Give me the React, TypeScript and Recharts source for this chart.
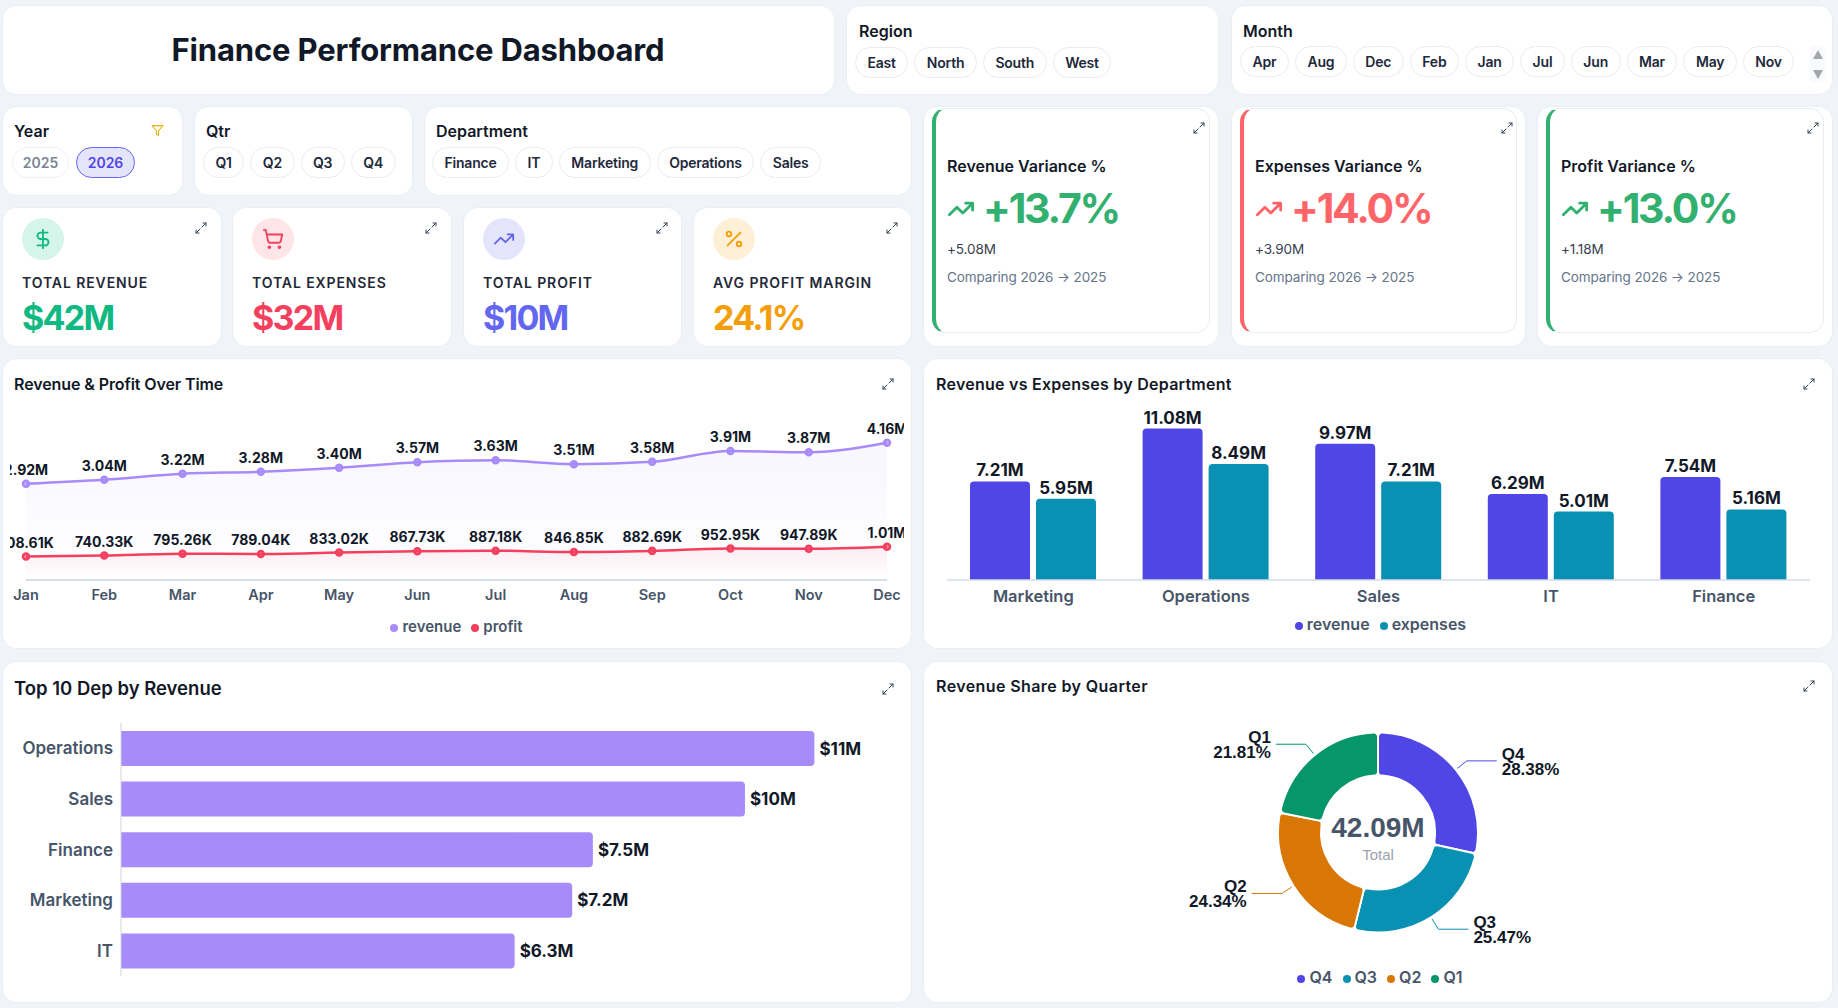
import React from "react"
import {
  AreaChart,
  Area,
  BarChart,
  Bar,
  PieChart,
  Pie,
  Cell,
  XAxis,
  YAxis,
  Legend,
  LabelList,
} from "recharts"

const months = ["Jan", "Feb", "Mar", "Apr", "May", "Jun", "Jul", "Aug", "Sep", "Oct", "Nov", "Dec"]
const revenueByMonth = [2920000, 3040000, 3220000, 3280000, 3400000, 3570000, 3630000, 3510000, 3580000, 3910000, 3870000, 4160000]
const profitByMonth = [708610, 740330, 795260, 789040, 833020, 867730, 887180, 846850, 882690, 952950, 947890, 1010000]

const departments = ["Marketing", "Operations", "Sales", "IT", "Finance"]
const deptRevenue = [7210000, 11080000, 9970000, 6290000, 7540000]
const deptExpenses = [5950000, 8490000, 7210000, 5010000, 5160000]

const topDepts = ["Operations", "Sales", "Finance", "Marketing", "IT"]
const topDeptRevenue = [11080000, 9970000, 7540000, 7210000, 6290000]

const quarters = ["Q4", "Q3", "Q2", "Q1"]
const quarterRevenue = [11945000, 10720000, 10245000, 9180000]
const quarterColors = ["#4f46e5", "#0891b2", "#d97706", "#059669"]

const regionChips = ["East", "North", "South", "West"]
const monthChips = ["Apr", "Aug", "Dec", "Feb", "Jan", "Jul", "Jun", "Mar", "May", "Nov"]
const qtrChips = ["Q1", "Q2", "Q3", "Q4"]
const deptChips = ["Finance", "IT", "Marketing", "Operations", "Sales"]

const lineData = months.map((month, i) => ({ month, revenue: revenueByMonth[i], profit: profitByMonth[i] }))
const deptData = departments.map((name, i) => ({ name, revenue: deptRevenue[i], expenses: deptExpenses[i] }))
const topData = topDepts.map((name, i) => ({ name, revenue: topDeptRevenue[i] }))
const quarterData = quarters.map((name, i) => ({ name, value: quarterRevenue[i] }))

const FONT = "Inter, sans-serif"
const DARK = "#111827"
const AXIS = "#475569"

const fmtShort = (v: number) => (v >= 1000000 ? (v / 1000000).toFixed(2) + "M" : (v / 1000).toFixed(2) + "K")
const fmtDollar = (v: number) => {
  const m = v / 1000000
  return "$" + (m >= 9.5 ? Math.round(m) : m.toFixed(1)) + "M"
}

function Card({ x, y, w, h, children }: any) {
  return (
    <div
      style={{
        position: "absolute",
        left: x,
        top: y,
        width: w,
        height: h,
        boxSizing: "border-box",
        background: "#fff",
        borderRadius: 14,
        boxShadow: "0 0 0 1px #eaeff5",
      }}
    >
      {children}
    </div>
  )
}

// y is the vertical centre of the text
function Txt({ x, y, size = 14, weight = 500, color = DARK, spacing = 0, children, center }: any) {
  return (
    <div
      style={{
        position: "absolute",
        left: x,
        top: y,
        transform: center ? "translate(-50%,-50%)" : "translateY(-50%)",
        fontFamily: FONT,
        fontSize: size,
        fontWeight: weight,
        color,
        letterSpacing: spacing,
        whiteSpace: "nowrap",
      }}
    >
      {children}
    </div>
  )
}

function Chips({ x, y, items, gap = 6, height = 31, pad = 11.5 }: any) {
  return (
    <div style={{ position: "absolute", left: x, top: y, display: "flex", gap }}>
      {items.map((c: string) => (
        <div
          key={c}
          style={{
            height,
            boxSizing: "border-box",
            padding: `0 ${pad}px`,
            display: "flex",
            alignItems: "center",
            borderRadius: 16,
            border: "1px solid #e8ecf2",
            background: "#fff",
            fontFamily: FONT,
            fontSize: 14,
            fontWeight: 600,
            letterSpacing: -0.2,
            color: "#1e293b",
          }}
        >
          {c}
        </div>
      ))}
    </div>
  )
}

function Icon({ x, y, size = 12, color = "#334155", width = 2, children }: any) {
  return (
    <svg
      style={{ position: "absolute", left: x, top: y }}
      width={size}
      height={size}
      viewBox="0 0 24 24"
      fill="none"
      stroke={color}
      strokeWidth={width}
      strokeLinecap="round"
      strokeLinejoin="round"
    >
      {children}
    </svg>
  )
}

const Expand = ({ x, y }: any) => (
  <Icon x={x} y={y}>
    <path d="M16 2h6v6M22 2l-8 8M2 22l8-8M2 16v6h6" />
  </Icon>
)
const Trend = <path d="M22 7 13.5 15.5 8.5 10.5 2 17M16 7h6v6" />

const kpis = [
  { x: 3, w: 218, title: "TOTAL REVENUE", value: "$42M", color: "#10b981", bg: "#d6f5ea" },
  { x: 233, w: 218, title: "TOTAL EXPENSES", value: "$32M", color: "#f43f5e", bg: "#ffe4e8" },
  { x: 464, w: 217, title: "TOTAL PROFIT", value: "$10M", color: "#6366f1", bg: "#e4e5fc" },
  { x: 694, w: 217, title: "AVG PROFIT MARGIN", value: "24.1%", color: "#f59e0b", bg: "#fef0d6" },
]
const kpiIcons = [
  <path d="M12 2v20M17 5H9.5a3.5 3.5 0 0 0 0 7h5a3.5 3.5 0 0 1 0 7H6" />,
  <>
    <circle cx="8" cy="21" r="1" />
    <circle cx="19" cy="21" r="1" />
    <path d="M2.05 2.05h2l2.66 12.42a2 2 0 0 0 2 1.58h9.78a2 2 0 0 0 1.95-1.57l1.65-7.43H5.12" />
  </>,
  Trend,
  <>
    <path d="M19 5 5 19" />
    <circle cx="6.5" cy="6.5" r="2.5" />
    <circle cx="17.5" cy="17.5" r="2.5" />
  </>,
]
const variances = [
  { x: 924, w: 294, title: "Revenue Variance %", value: "+13.7%", delta: "+5.08M", color: "#32b06f" },
  { x: 1232, w: 293, title: "Expenses Variance %", value: "+14.0%", delta: "+3.90M", color: "#ff6468" },
  { x: 1538, w: 294, title: "Profit Variance %", value: "+13.0%", delta: "+1.18M", color: "#32b06f" },
]

const dotLegend = (size = 14) => ({
  fontFamily: FONT,
  fontSize: size,
  fontWeight: 600,
  color: AXIS,
})

function PieLabel(props: any) {
  const { cx, cy, midAngle, outerRadius, percent, name, index } = props
  const rad = Math.PI / 180
  const cos = Math.cos(-midAngle * rad)
  const sin = Math.sin(-midAngle * rad)
  const sx = cx + (outerRadius + 2) * cos
  const sy = cy + (outerRadius + 2) * sin
  const mx = cx + (outerRadius + 14) * cos
  const my = cy + (outerRadius + 14) * sin
  const right = cos >= 0
  const ex = mx + (right ? 30 : -30)
  const tx = ex + (right ? 5 : -5)
  const style = { fontFamily: "'Liberation Sans', sans-serif", fontSize: 17, fontWeight: 700, fill: DARK }
  return (
    <g>
      <path d={`M${sx},${sy}L${mx},${my}L${ex},${my}`} fill="none" stroke={quarterColors[index]} strokeWidth={1} />
      <text x={tx} y={my - 1} textAnchor={right ? "start" : "end"} style={style}>
        {name}
      </text>
      <text x={tx} y={my + 14} textAnchor={right ? "start" : "end"} style={style}>
        {(percent * 100).toFixed(2)}%
      </text>
    </g>
  )
}

export default function App() {
  return (
    <div style={{ position: "absolute", left: 0, top: 0, width: 1838, height: 1008, background: "#f0f4f8", overflow: "hidden" }}>
      {/* top filters */}
      <Card x={3} y={6} w={831} h={88} />
      <Txt x={418} y={49} size={31} weight={700} color="#111827" spacing={-0.15} center>
        Finance Performance Dashboard
      </Txt>

      <Card x={847} y={6} w={371} h={88} />
      <Txt x={859} y={31} size={16} weight={600}>Region</Txt>
      <Chips x={855} y={47} items={regionChips} />

      <Card x={1232} y={6} w={600} h={88} />
      <Txt x={1243} y={31} size={16} weight={600}>Month</Txt>
      <Chips x={1240} y={46} items={monthChips} />
      <div style={{ position: "absolute", left: 1810, top: 46, width: 16, height: 36, background: "#f8fafc", borderRadius: 4 }} />
      <svg style={{ position: "absolute", left: 1811, top: 48 }} width={14} height={34}>
        <path d="M7 2l5 9H2z" fill="#a3a8ae" />
        <path d="M7 31l5-9H2z" fill="#a3a8ae" />
      </svg>

      <Card x={3} y={107} w={179} h={88} />
      <Txt x={14} y={131} size={16} weight={600}>Year</Txt>
      <Icon x={151} y={124} size={13} color="#eab308">
        <polygon points="22 3 2 3 10 12.46 10 19 14 21 14 12.46 22 3" />
      </Icon>
      <div style={{ position: "absolute", left: 12, top: 147, width: 57, height: 31, boxSizing: "border-box", borderRadius: 16, border: "1px solid #eef1f5", display: "flex", alignItems: "center", justifyContent: "center", fontFamily: FONT, fontSize: 14, fontWeight: 600, color: "#7b8494" }}>2025</div>
      <div style={{ position: "absolute", left: 76, top: 147, width: 59, height: 31, boxSizing: "border-box", borderRadius: 16, border: "1px solid #6366f1", background: "#e4e4fb", display: "flex", alignItems: "center", justifyContent: "center", fontFamily: FONT, fontSize: 14, fontWeight: 600, color: "#4f46e5" }}>2026</div>

      <Card x={195} y={107} w={217} h={88} />
      <Txt x={206} y={131} size={16} weight={600}>Qtr</Txt>
      <Chips x={203} y={147} items={qtrChips} />

      <Card x={425} y={107} w={486} h={88} />
      <Txt x={436} y={131} size={16} weight={600}>Department</Txt>
      <Chips x={432} y={147} items={deptChips} />

      {/* KPI cards */}
      {kpis.map((k, i) => (
        <React.Fragment key={k.title}>
          <Card x={k.x} y={208} w={k.w} h={138} />
          <div style={{ position: "absolute", left: k.x + 19, top: 218, width: 42, height: 42, borderRadius: 21, background: k.bg }} />
          <Icon x={k.x + 29} y={228} size={22} color={k.color}>{kpiIcons[i]}</Icon>
          <Txt x={k.x + 19} y={282} size={14} weight={600} spacing={0.9} color="#1f2937">{k.title}</Txt>
          <Txt x={k.x + 19} y={317} size={34} weight={700} spacing={-1.75} color={k.color}>{k.value}</Txt>
          <Expand x={k.x + 192} y={222} />
        </React.Fragment>
      ))}

      {/* variance cards */}
      {variances.map((v) => (
        <React.Fragment key={v.title}>
          <Card x={v.x} y={107} w={v.w} h={239} />
          <div
            style={{
              position: "absolute",
              left: v.x + 8,
              top: 108,
              width: v.w - 16,
              height: 225,
              boxSizing: "border-box",
              borderRadius: 14,
              border: "1px solid #e9eef4",
              borderLeft: `4px solid ${v.color}`,
            }}
          />
          <Txt x={v.x + 23} y={166} size={16} weight={600}>{v.title}</Txt>
          <Icon x={v.x + 23} y={195} size={28} color={v.color} width={2.4}>{Trend}</Icon>
          <Txt x={v.x + 59} y={208} size={41} weight={700} spacing={-2.2} color={v.color}>{v.value}</Txt>
          <Txt x={v.x + 23} y={249} size={13.5} weight={400} spacing={-0.1} color="#374151">{v.delta}</Txt>
          <Txt x={v.x + 23} y={277} size={13.5} weight={400} spacing={-0.1} color="#64748b">Comparing 2026 → 2025</Txt>
          <Expand x={v.x + 269} y={122} />
        </React.Fragment>
      ))}

      {/* revenue & profit over time */}
      <Card x={3} y={359} w={908} h={289} />
      <Txt x={14} y={384} size={16} weight={600} spacing={-0.1}>Revenue &amp; Profit Over Time</Txt>
      <Expand x={882} y={378} />
      <div style={{ position: "absolute", left: 10, top: 400, width: 894, height: 245, overflow: "hidden" }}>
        <AreaChart width={894} height={245} data={lineData} margin={{ top: 15, right: 17, bottom: 4.5, left: 16 }}>
          <defs>
            <linearGradient id="revFill" x1="0" y1="0" x2="0" y2="1">
              <stop offset="0%" stopColor="#a78bfa" stopOpacity={0.13} />
              <stop offset="100%" stopColor="#a78bfa" stopOpacity={0} />
            </linearGradient>
            <linearGradient id="profFill" x1="0" y1="0" x2="0" y2="1">
              <stop offset="0%" stopColor="#f43f5e" stopOpacity={0.14} />
              <stop offset="100%" stopColor="#f43f5e" stopOpacity={0} />
            </linearGradient>
          </defs>
          <XAxis
            dataKey="month"
            height={36.5}
            interval={0}
            tickLine={false}
            tickMargin={4}
            axisLine={{ stroke: "#cbd5e1", strokeWidth: 1.5 }}
            tick={{ fontFamily: FONT, fontSize: 14.5, fontWeight: 600, fill: AXIS }}
          />
          <YAxis hide domain={[0, 5000000]} />
          <Legend
            height={24}
            iconType="circle"
            iconSize={8}
            itemSorter={null}
            wrapperStyle={{ paddingLeft: 5 }}
            formatter={(value) => <span style={dotLegend(15)}>{value}</span>}
          />
          <Area type="monotone" dataKey="revenue" stroke="#a78bfa" strokeWidth={2.5} fill="url(#revFill)" dot={{ r: 3, fill: "#a78bfa", stroke: "#a78bfa" }} isAnimationActive={false}>
            <LabelList dataKey="revenue" position="top" offset={9} formatter={fmtShort as any} style={{ fontFamily: FONT, fontSize: 14, fontWeight: 700, fill: DARK }} />
          </Area>
          <Area type="monotone" dataKey="profit" stroke="#f43f5e" strokeWidth={2.5} fill="url(#profFill)" dot={{ r: 3, fill: "#f43f5e", stroke: "#f43f5e" }} isAnimationActive={false}>
            <LabelList dataKey="profit" position="top" offset={9} formatter={fmtShort as any} style={{ fontFamily: FONT, fontSize: 14, fontWeight: 700, fill: DARK }} />
          </Area>
        </AreaChart>
      </div>

      {/* revenue vs expenses */}
      <Card x={924} y={359} w={908} h={289} />
      <Txt x={936} y={384} size={16} weight={600} spacing={0.25}>Revenue vs Expenses by Department</Txt>
      <Expand x={1803} y={378} />
      <div style={{ position: "absolute", left: 936, top: 400 }}>
        <BarChart width={886} height={245} data={deptData} barSize={60} barGap={6} margin={{ top: 16, right: 12, bottom: 7, left: 11 }}>
          <XAxis
            dataKey="name"
            height={34}
            interval={0}
            tickLine={false}
            tickMargin={4}
            axisLine={{ stroke: "#d5dce6", strokeWidth: 1.5 }}
            tick={{ fontFamily: FONT, fontSize: 16.5, fontWeight: 600, fill: AXIS }}
          />
          <YAxis hide domain={[0, 12000000]} />
          <Legend
            height={24}
            iconType="circle"
            iconSize={8}
            itemSorter={null}
            wrapperStyle={{ paddingLeft: 7 }}
            formatter={(value) => <span style={dotLegend(16)}>{value}</span>}
          />
          <Bar dataKey="revenue" fill="#4f46e5" radius={[4, 4, 0, 0]} isAnimationActive={false}>
            <LabelList dataKey="revenue" position="top" offset={5} formatter={fmtShort as any} style={{ fontFamily: FONT, fontSize: 17, fontWeight: 700, fill: DARK }} />
          </Bar>
          <Bar dataKey="expenses" fill="#0891b2" radius={[4, 4, 0, 0]} isAnimationActive={false}>
            <LabelList dataKey="expenses" position="top" offset={5} formatter={fmtShort as any} style={{ fontFamily: FONT, fontSize: 17, fontWeight: 700, fill: DARK }} />
          </Bar>
        </BarChart>
      </div>

      {/* top departments */}
      <Card x={3} y={662} w={908} h={340} />
      <Txt x={14} y={688} size={18.5} weight={600} spacing={0}>Top 10 Dep by Revenue</Txt>
      <Expand x={882} y={683} />
      <div style={{ position: "absolute", left: 12, top: 711 }}>
        <BarChart width={888} height={280} data={topData} layout="vertical" barSize={35} margin={{ top: 12, right: 28, bottom: 15, left: 0 }}>
          <XAxis type="number" hide domain={[0, 12000000]} />
          <YAxis
            type="category"
            dataKey="name"
            width={109}
            interval={0}
            tickLine={false}
            tickMargin={2}
            axisLine={{ stroke: "#d1d5db" }}
            tick={{ fontFamily: FONT, fontSize: 17, fontWeight: 600, fill: AXIS }}
          />
          <Bar dataKey="revenue" fill="#a78bfa" radius={[0, 4, 4, 0]} isAnimationActive={false}>
            <LabelList dataKey="revenue" position="right" offset={5} formatter={fmtDollar as any} style={{ fontFamily: FONT, fontSize: 17, fontWeight: 700, fill: DARK }} />
          </Bar>
        </BarChart>
      </div>

      {/* revenue share */}
      <Card x={924} y={662} w={908} h={340} />
      <Txt x={936} y={686} size={16} weight={600} spacing={0.4}>Revenue Share by Quarter</Txt>
      <Expand x={1803} y={680} />
      <div style={{ position: "absolute", left: 924, top: 700 }}>
        <PieChart width={908} height={300} margin={{ top: 0, right: 0, bottom: 9, left: 0 }}>
          <Legend
            height={24}
            iconType="circle"
            iconSize={8}
            itemSorter={null}
            wrapperStyle={{ paddingLeft: 7 }}
            formatter={(value) => <span style={dotLegend(16)}>{value}</span>}
          />
          <Pie
            data={quarterData}
            dataKey="value"
            nameKey="name"
            cx={454}
            cy={132.5}
            innerRadius={57}
            outerRadius={100}
            startAngle={90}
            endAngle={-270}
            cornerRadius={4}
            stroke="#fff"
            strokeWidth={2}
            label={PieLabel}
            labelLine={false}
            isAnimationActive={false}
          >
            {quarterData.map((q, i) => (
              <Cell key={q.name} fill={quarterColors[i]} />
            ))}
          </Pie>
        </PieChart>
      </div>
      <div style={{ position: "absolute", left: 1378, top: 828, transform: "translate(-50%,-50%)", fontFamily: "'Liberation Sans', sans-serif", fontSize: 28, fontWeight: 700, color: AXIS }}>
        42.09M
      </div>
      <div style={{ position: "absolute", left: 1378, top: 854, transform: "translate(-50%,-50%)", fontFamily: "'Liberation Sans', sans-serif", fontSize: 15, color: "#9ca3af" }}>
        Total
      </div>
    </div>
  )
}
